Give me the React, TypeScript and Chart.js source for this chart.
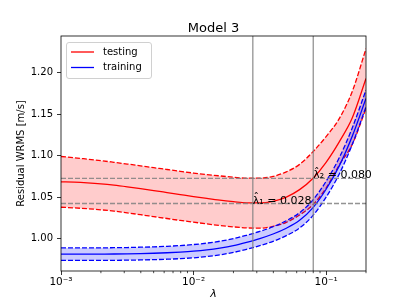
import React, { useEffect, useRef } from "react";
import { Chart, registerables } from "chart.js";

Chart.register(...registerables);

// ---- data ----
const LAMBDA = [
  0.001, 0.00126, 0.00158, 0.002, 0.00251, 0.00316, 0.00398, 0.00501, 0.00631, 0.00794,
  0.01, 0.0126, 0.0158, 0.02, 0.0251, 0.0316, 0.0398, 0.0501, 0.0631, 0.0794,
  0.1, 0.126, 0.158, 0.2,
];
const TEST_MEAN = [
  1.0684, 1.068, 1.0672, 1.066, 1.0644, 1.0624, 1.0602, 1.0579, 1.0555, 1.0531,
  1.0507, 1.0484, 1.0463, 1.0445, 1.043, 1.043, 1.045, 1.05, 1.059, 1.0725,
  1.092, 1.117, 1.146, 1.193,
];
const TEST_UPPER = [
  1.099, 1.0975, 1.0958, 1.094, 1.092, 1.0899, 1.0877, 1.0855, 1.0833, 1.0811,
  1.079, 1.0772, 1.0756, 1.074, 1.0728, 1.0728, 1.075, 1.0805, 1.0895, 1.1045,
  1.123, 1.145, 1.178, 1.229,
];
const TEST_LOWER = [
  1.0378, 1.037, 1.036, 1.0347, 1.0331, 1.031, 1.0288, 1.0265, 1.0242, 1.0219,
  1.0198, 1.0177, 1.0158, 1.0141, 1.0129, 1.0125, 1.0148, 1.0195, 1.0285, 1.0405,
  1.061, 1.089, 1.114, 1.157,
];
const TRAIN_MEAN = [
  0.9812, 0.9812, 0.9812, 0.9813, 0.9814, 0.9816, 0.9819, 0.9823, 0.9829, 0.9837,
  0.9848, 0.9864, 0.9886, 0.9916, 0.9955, 1.0, 1.0055, 1.0125, 1.022, 1.037,
  1.0595, 1.088, 1.124, 1.169,
];
const TRAIN_UPPER = [
  0.9887, 0.9887, 0.9887, 0.9888, 0.989, 0.9892, 0.9896, 0.99, 0.9907, 0.9916,
  0.9928, 0.9945, 0.9968, 0.9999, 1.004, 1.0086, 1.0143, 1.0215, 1.0312, 1.0464,
  1.0691, 1.0978, 1.134, 1.1792,
];
const TRAIN_LOWER = [
  0.9737, 0.9737, 0.9737, 0.9738, 0.9738, 0.974, 0.9742, 0.9746, 0.9751, 0.9758,
  0.9768, 0.9783, 0.9804, 0.9833, 0.987, 0.9914, 0.9967, 1.0035, 1.0128, 1.0276,
  1.0499, 1.0782, 1.114, 1.1588,
];
const LAMBDA_HAT = [0.028, 0.08];
const LAMBDA_LEVEL = [1.0423, 1.0725];
const LAMBDA_LABELS = ["λ̂₁ = 0.028", "λ̂₂ = 0.080"];
const X_MIN = 0.001;
const X_MAX = 0.2;
const Y_MIN = 0.9609;
const Y_MAX = 1.2443;
const Y_TICKS = [1.0, 1.05, 1.1, 1.15, 1.2];
const X_MAJOR = [0.001, 0.01, 0.1];
const X_TICK_LABELS = ["10⁻³", "10⁻²", "10⁻¹"];
const SERIES_LABELS = ["testing", "training"];
const TITLE = "Model 3";
const X_TITLE = "λ";
const Y_TITLE = "Residual WRMS [m/s]";

const FONT = "'DejaVu Sans', sans-serif";
const RED = "#ff0000";
const BLUE = "#0000ff";
const RED_FILL = "rgba(255,0,0,0.2)";
const BLUE_FILL = "rgba(0,0,255,0.2)";

const pts = (ys: number[]) => ys.map((y, i) => ({ x: LAMBDA[i], y }));

function minorTicks(): number[] {
  const out: number[] = [];
  X_MAJOR.forEach((d) => {
    for (let k = 2; k <= 9; k++) {
      const v = d * k;
      if (v <= X_MAX) out.push(v);
    }
  });
  return out;
}

const overlayPlugin = {
  id: "overlay",
  afterDatasetsDraw(chart: any) {
    const { ctx, chartArea } = chart;
    const xs = chart.scales.x;
    const ys = chart.scales.y;
    ctx.save();
    ctx.strokeStyle = "rgba(128,128,128,0.85)";
    ctx.lineWidth = 1.3;
    LAMBDA_HAT.forEach((l) => {
      const px = xs.getPixelForValue(l);
      ctx.beginPath();
      ctx.moveTo(px, chartArea.top);
      ctx.lineTo(px, chartArea.bottom);
      ctx.stroke();
    });
    ctx.setLineDash([5, 2]);
    LAMBDA_LEVEL.forEach((v) => {
      const py = ys.getPixelForValue(v);
      ctx.beginPath();
      ctx.moveTo(chartArea.left, py);
      ctx.lineTo(chartArea.right, py);
      ctx.stroke();
    });
    ctx.setLineDash([]);
    ctx.fillStyle = "#000";
    ctx.font = `11px ${FONT}`;
    ctx.textAlign = "left";
    ctx.textBaseline = "alphabetic";
    LAMBDA_HAT.forEach((l, i) => {
      ctx.fillText(LAMBDA_LABELS[i], xs.getPixelForValue(l), ys.getPixelForValue(LAMBDA_LEVEL[i]));
    });
    ctx.restore();
  },
  afterDraw(chart: any) {
    const { ctx, chartArea } = chart;
    const xs = chart.scales.x;
    ctx.save();
    // title
    ctx.fillStyle = "#000";
    ctx.font = `13px ${FONT}`;
    ctx.textAlign = "center";
    ctx.textBaseline = "alphabetic";
    ctx.fillText(TITLE, (chartArea.left + chartArea.right) / 2, chartArea.top - 4);
    // x title
    ctx.font = `italic 11px ${FONT}`;
    ctx.fillText(X_TITLE, (chartArea.left + chartArea.right) / 2, chartArea.bottom + 26);
    // frame
    ctx.strokeStyle = "#000";
    ctx.lineWidth = 0.8;
    ctx.strokeRect(chartArea.left, chartArea.top, chartArea.right - chartArea.left, chartArea.bottom - chartArea.top);
    // minor ticks
    ctx.lineWidth = 0.7;
    minorTicks().forEach((v) => {
      const px = xs.getPixelForValue(v);
      ctx.beginPath();
      ctx.moveTo(px, chartArea.bottom);
      ctx.lineTo(px, chartArea.bottom + 2.2);
      ctx.stroke();
    });
    // legend
    const bx = chartArea.left + 5;
    const by = chartArea.top + 6;
    const bw = 85;
    const bh = 36;
    ctx.fillStyle = "rgba(255,255,255,0.8)";
    ctx.strokeStyle = "#d0d0d0";
    ctx.lineWidth = 1;
    ctx.beginPath();
    (ctx as any).roundRect(bx + 0.5, by + 0.5, bw, bh, 2.5);
    ctx.fill();
    ctx.stroke();
    const colors = [RED, BLUE];
    ctx.font = `10px ${FONT}`;
    ctx.textBaseline = "middle";
    ctx.textAlign = "left";
    SERIES_LABELS.forEach((lab, i) => {
      const ly = by + 10 + i * 15.5;
      ctx.strokeStyle = colors[i];
      ctx.lineWidth = 1.3;
      ctx.beginPath();
      ctx.moveTo(bx + 5, ly);
      ctx.lineTo(bx + 28, ly);
      ctx.stroke();
      ctx.fillStyle = "#000";
      ctx.fillText(lab, bx + 37, ly);
    });
    ctx.restore();
  },
};

export default function App() {
  const ref = useRef<HTMLCanvasElement | null>(null);
  useEffect(() => {
    if (!ref.current) return;
    const line = (data: number[], color: string, dashed: boolean, fill: any = false, bg = "transparent") => ({
      data: pts(data),
      borderColor: color,
      backgroundColor: bg,
      borderWidth: 1.3,
      borderDash: dashed ? [5, 2] : [],
      pointRadius: 0,
      fill,
      cubicInterpolationMode: "monotone",
    });
    const chart = new Chart(ref.current, {
      type: "line",
      data: {
        datasets: [
          { label: SERIES_LABELS[1], ...line(TRAIN_MEAN, BLUE, false) },
          { label: "train upper", ...line(TRAIN_UPPER, BLUE, true, "+1", BLUE_FILL) },
          { label: "train lower", ...line(TRAIN_LOWER, BLUE, true) },
          { label: SERIES_LABELS[0], ...line(TEST_MEAN, RED, false) },
          { label: "test upper", ...line(TEST_UPPER, RED, true, "+1", RED_FILL) },
          { label: "test lower", ...line(TEST_LOWER, RED, true) },
        ] as any,
      },
      options: {
        animation: false,
        responsive: false,
        layout: { padding: { left: 0, right: 41, top: 36, bottom: 0 } },
        plugins: {
          legend: { display: false },
          tooltip: { enabled: false },
          title: { display: false },
        },
        scales: {
          x: {
            type: "logarithmic",
            min: X_MIN,
            max: X_MAX,
            border: { display: false },
            grid: { drawOnChartArea: false, tickLength: 4, color: "#000", lineWidth: 0.8 },
            afterBuildTicks: (s: any) => {
              s.ticks = X_MAJOR.map((v) => ({ value: v, major: true }));
            },
            afterFit: (s: any) => {
              s.height = 34;
            },
            ticks: {
              autoSkip: false,
              maxRotation: 0,
              color: "#000",
              padding: 1,
              font: { family: FONT, size: 10.5 },
              callback: (v: any) => {
                const i = X_MAJOR.findIndex((m) => Math.abs(m - v) / m < 1e-6);
                return i >= 0 ? X_TICK_LABELS[i] : "";
              },
            },
          },
          y: {
            type: "linear",
            min: Y_MIN,
            max: Y_MAX,
            border: { display: false },
            grid: { drawOnChartArea: false, tickLength: 4, color: "#000", lineWidth: 0.8 },
            afterBuildTicks: (s: any) => {
              s.ticks = Y_TICKS.map((v) => ({ value: v }));
            },
            afterFit: (s: any) => {
              s.width = 61;
            },
            ticks: {
              color: "#000",
              padding: 4,
              font: { family: FONT, size: 10 },
              callback: (v: any) => Number(v).toFixed(2),
            },
            title: {
              display: true,
              text: Y_TITLE,
              color: "#000",
              font: { family: FONT, size: 10 },
              padding: { top: 15.5, bottom: 0 },
            },
          },
        },
      } as any,
      plugins: [overlayPlugin],
    });
    return () => chart.destroy();
  }, []);
  return (
    <div style={{ position: "fixed", left: 0, top: 0, width: 407, height: 305, background: "#fff" }}>
      <canvas ref={ref} width={407} height={305} style={{ width: 407, height: 305 }} />
    </div>
  );
}
